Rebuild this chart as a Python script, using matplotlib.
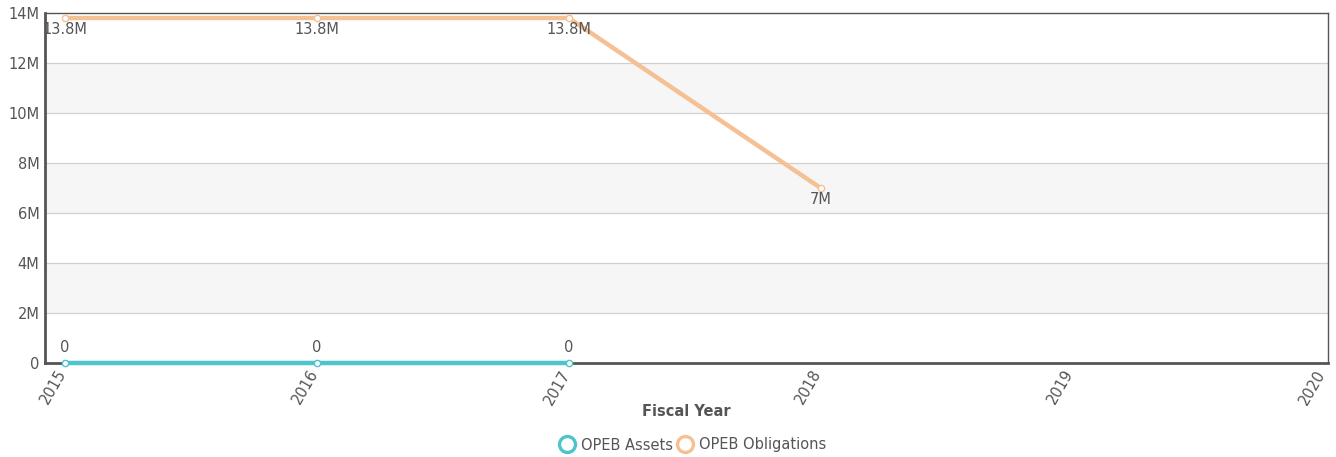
import matplotlib.pyplot as plt
import matplotlib.transforms as mtransforms
from matplotlib.lines import Line2D

# data
years = [2015, 2016, 2017, 2018]
opeb_assets = [0, 0, 0]
opeb_obligations = [13.8e6, 13.8e6, 13.8e6, 7.0e6]
asset_labels = ["0", "0", "0"]
obligation_labels = ["13.8M", "13.8M", "13.8M", "7M"]
xticks = [2015, 2016, 2017, 2018, 2019, 2020]
yticks = [0, 2e6, 4e6, 6e6, 8e6, 10e6, 12e6, 14e6]
ytick_labels = ["0", "2M", "4M", "6M", "8M", "10M", "12M", "14M"]

teal = "#4fc4cc"
peach = "#f5c194"
text_col = "#555555"
fs = 10.5

plt.rcParams["font.family"] = "DejaVu Sans"

fig = plt.figure(figsize=(13.36, 4.57), dpi=100)
ax = fig.add_axes([45 / 1336, 1 - 363 / 457, 1283 / 1336, 350 / 457])

# alternating background bands
for lo in range(2, 14, 4):
    ax.axhspan(lo * 1e6, (lo + 2) * 1e6, color="#f6f6f6", zorder=0, lw=0)
for y in yticks[1:-1]:
    ax.axhline(y, color="#d0d0d0", lw=0.9, zorder=1)

ax.plot(years[:len(opeb_assets)], opeb_assets, color=teal, lw=3.2,
        marker="o", ms=4.5, mfc="white", mec=teal, mew=1.0, zorder=3,
        clip_on=False)
ax.plot(years, opeb_obligations, color=peach, lw=3.2,
        marker="o", ms=4.5, mfc="white", mec=peach, mew=1.0, zorder=3,
        clip_on=False)

for x, v, lab in zip(years, opeb_assets, asset_labels):
    ax.annotate(lab, (x, v), xytext=(0, 6), textcoords="offset points",
                ha="center", va="bottom", fontsize=fs, color=text_col)
for x, v, lab in zip(years, opeb_obligations, obligation_labels):
    ax.annotate(lab, (x, v), xytext=(0, -3), textcoords="offset points",
                ha="center", va="top", fontsize=fs, color=text_col)

ax.set_xlim(2014.92, 2020.015)
ax.set_ylim(0, 14e6)
ax.set_xticks(xticks)
ax.set_xticklabels([str(t) for t in xticks], rotation=60, ha="right")
ax.set_yticks(yticks)
ax.set_yticklabels(ytick_labels)
ax.tick_params(axis="both", length=0, labelsize=fs, colors=text_col, pad=4)
ax.tick_params(axis="x", pad=3)

# nudge the rotated year labels so they end at their tick
shift = mtransforms.ScaledTranslation(4 / 100, 0, fig.dpi_scale_trans)
for lab in ax.get_xticklabels():
    lab.set_transform(lab.get_transform() + shift)

for side in ["top", "right"]:
    ax.spines[side].set_color("#555555")
    ax.spines[side].set_linewidth(1.0)
for side in ["left", "bottom"]:
    ax.spines[side].set_color("#555555")
    ax.spines[side].set_linewidth(2.0)

ax.set_xlabel("Fiscal Year", fontsize=fs, fontweight="bold", color=text_col,
              labelpad=-2)

handles = [
    Line2D([], [], ls="none", marker="o", ms=11.5, mfc="white", mec=teal, mew=2.4),
    Line2D([], [], ls="none", marker="o", ms=11.5, mfc="white", mec=peach, mew=2.4),
]
fig.legend(handles, ["OPEB Assets", "OPEB Obligations"], loc="center",
           bbox_to_anchor=(693 / 1336, 1 - 445 / 457), ncol=2, frameon=False,
           fontsize=fs, labelcolor=text_col, handletextpad=0.45,
           columnspacing=0.35, handlelength=1.0)

fig.savefig("out.png", dpi=100)
